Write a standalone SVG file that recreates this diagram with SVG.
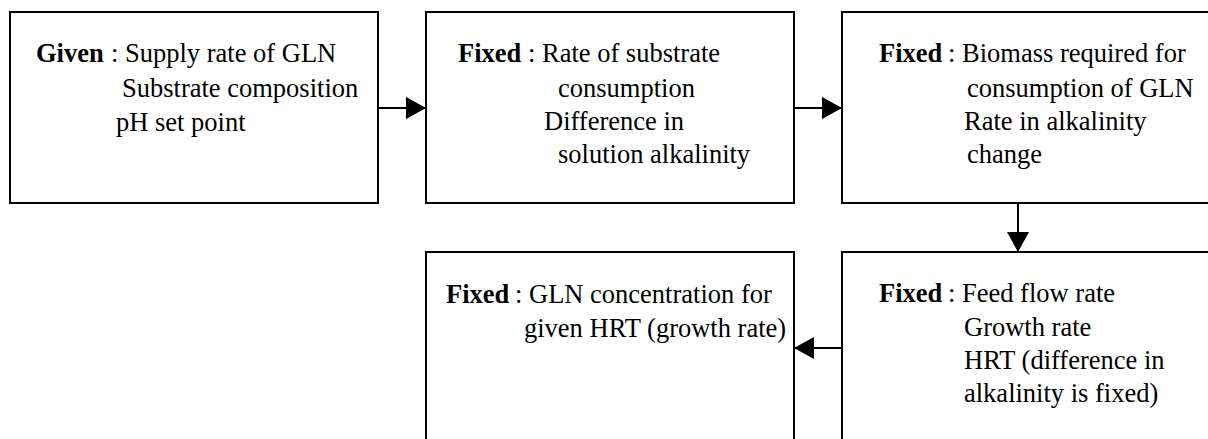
<svg xmlns="http://www.w3.org/2000/svg" width="1208" height="439" viewBox="0 0 1208 439">
<style>
.box{fill:#fff;stroke:#000;stroke-width:2}
.t{font-family:"Liberation Serif","Times New Roman",serif;font-size:26.5px;fill:#000}
.b{font-weight:bold}
.c{stroke:#000;stroke-width:2;fill:none}
</style>
<defs>
<marker id="ah" viewBox="0 0 20 22" refX="20" refY="11" markerWidth="20" markerHeight="22" markerUnits="userSpaceOnUse" orient="auto">
<path d="M0,0 L20,11 L0,22 Z" fill="#000"/>
</marker>
</defs>
<rect width="1208" height="439" fill="#fff"/>
<g id="given">
<rect class="box" x="10" y="12" width="368" height="191"/>
<text class="t"><tspan class="b" x="36" y="62">Given</tspan><tspan x="111" y="62">: Supply rate of GLN</tspan><tspan x="122" y="97">Substrate composition</tspan><tspan x="116" y="131">pH set point</tspan></text>
</g>
<g id="fixed1">
<rect class="box" x="426" y="12" width="368" height="191"/>
<text class="t"><tspan class="b" x="458" y="62">Fixed</tspan><tspan x="528" y="62">: Rate of substrate</tspan><tspan x="558" y="97">consumption</tspan><tspan x="544" y="130">Difference in</tspan><tspan x="558" y="163">solution alkalinity</tspan></text>
</g>
<g id="fixed2">
<rect class="box" x="842" y="12" width="400" height="191"/>
<text class="t"><tspan class="b" x="879" y="62">Fixed</tspan><tspan x="948" y="62">: Biomass required for</tspan><tspan x="967" y="97">consumption of GLN</tspan><tspan x="964" y="130">Rate in alkalinity</tspan><tspan x="967" y="163">change</tspan></text>
</g>
<g id="fixed3">
<rect class="box" x="842" y="252" width="400" height="200"/>
<text class="t"><tspan class="b" x="879" y="302">Fixed</tspan><tspan x="948" y="302">: Feed flow rate</tspan><tspan x="964" y="336">Growth rate</tspan><tspan x="964" y="369">HRT (difference in</tspan><tspan x="964" y="402">alkalinity is fixed)</tspan></text>
</g>
<g id="fixed4">
<rect class="box" x="426" y="252" width="368" height="200"/>
<text class="t"><tspan class="b" x="446" y="303">Fixed</tspan><tspan x="515" y="303">: GLN concentration for</tspan><tspan x="524" y="337">given HRT (growth rate)</tspan></text>
</g>
<g id="connectors">
<line class="c" x1="378" y1="108" x2="426" y2="108" marker-end="url(#ah)"/>
<line class="c" x1="794" y1="108" x2="842" y2="108" marker-end="url(#ah)"/>
<line class="c" x1="1018" y1="203" x2="1018" y2="252" marker-end="url(#ah)"/>
<line class="c" x1="842" y1="348" x2="794" y2="348" marker-end="url(#ah)"/>
</g>
</svg>
